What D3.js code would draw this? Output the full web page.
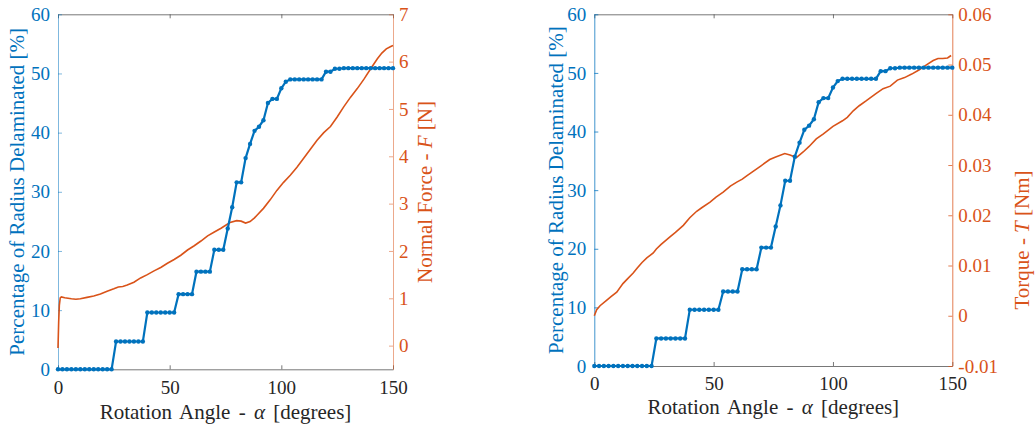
<!DOCTYPE html>
<html>
<head>
<meta charset="utf-8">
<script src="https://cdn.jsdelivr.net/npm/d3@7"></script>
<style>
  body { margin: 0; background: #fff; }
  text { font-family: "Liberation Serif", "Times New Roman", serif; }
</style>
</head>
<body>
<div id="chart"></div>
<script>
// ---------------- data ----------------
// delamination (same test in both panels), sampled every 2 degrees
const angles = [0,2,4,6,8,10,12,14,16,18,20,22,24,26,28,30,32,34,36,38,40,42,44,46,48,50,52,54,56,58,60,
                62,64,66,68,70,72,74,76,78,80,82,84,86,88,90,92,94,96,98,100,102,104,106,108,110,112,114,116,118,
                120,122,124,126,128,130,132,134,136,138,140,142,144,146,148,150];
const delaminated = [0,0,0,0,0,0,0,0,0,0,0,0,0,
                     4.7,4.7,4.7,4.7,4.7,4.7,4.7,
                     9.6,9.6,9.6,9.6,9.6,9.6,9.6,
                     12.7,12.7,12.7,12.7,
                     16.5,16.5,16.5,16.5,
                     20.2,20.2,20.2,
                     23.8,27.4,31.6,31.6,35.7,38.1,40.3,41.0,42.1,45.0,45.7,45.7,47.5,48.6,
                     49.0,49.0,49.0,49.0,49.0,49.0,49.0,49.0,
                     50.3,50.3,
                     50.8,50.8,50.9,50.9,50.9,50.9,50.9,50.9,50.9,50.9,50.9,50.9,50.9,50.9];

// normal force F [N] (left panel)
const forceAngle = [0,0.3,0.6,1,1.5,3,6,8,10,13,16,19,22,25,27,29,31,34,37,40,43,46,49,52,55,58,61,64,67,70,73,
                    77,80,82,84,86,88,89,92,95,98,101,104,107,110,113,116,119,122,125,128,131,134,137,140,143,145,147,149,150];
const forceValue = [-0.05,0.5,0.85,1.01,1.03,1.01,0.99,0.98,0.99,1.02,1.05,1.09,1.15,1.2,1.24,1.25,1.28,1.34,1.43,1.5,1.58,1.65,1.74,1.82,1.91,2.02,2.11,2.21,2.32,2.4,2.48,
                    2.6,2.64,2.63,2.59,2.62,2.7,2.75,2.9,3.08,3.28,3.45,3.6,3.77,3.96,4.15,4.34,4.5,4.63,4.83,5.05,5.25,5.43,5.63,5.85,6.06,6.18,6.27,6.32,6.34];

// torque T [Nm] (right panel)
const torqueAngle = [0,1,2.4,5,7,9.4,12,14,16.3,18,20,22,24.7,26,28,31.7,34,37.3,40,42.9,45,48.5,51,54,57,59.7,62,64,67,70,73.5,
                     76,79.8,82,84.7,87.5,90,93,96,100,104,106,108.5,111,114,118,121,124,127,130,133,136,139,142,144,146,148,149.5];
const torqueValue = [0,0.0012,0.002,0.003,0.0038,0.0047,0.0064,0.0074,0.0085,0.0095,0.0106,0.0115,0.0125,0.0133,0.0142,0.0157,0.0166,0.018,0.0195,0.0208,0.0215,0.0226,0.0236,0.0246,0.0258,0.0266,0.0272,0.0279,0.0289,0.0299,0.0311,
                     0.0316,0.0323,0.032,0.0315,0.0326,0.0337,0.0352,0.0362,0.0377,0.0388,0.0395,0.0408,0.0418,0.0428,0.0442,0.0452,0.0457,0.0469,0.0474,0.0481,0.0489,0.0499,0.0508,0.0512,0.0512,0.0513,0.0518];

// ticks
const xTicks = [0,50,100,150];
const pctTicks = [0,10,20,30,40,50,60];
const forceTicks = [0,1,2,3,4,5,6,7];
const torqueTicks = [-0.01,0,0.01,0.02,0.03,0.04,0.05,0.06];

// ---------------- setup ----------------
const blue = "#0072BD", orange = "#D95319", dark = "#262626";

let svg = d3.select("#chart")
            .append("svg")
            .attr("width", 1035)
            .attr("height", 427);

////////////////// panel function ////////////////////////////////////

function drawPanel(p) {
  let x = d3.scaleLinear().domain([0,150]).range([p.left, p.right]);
  let yL = d3.scaleLinear().domain([0,60]).range([p.bottom, p.top]);
  let yR = d3.scaleLinear().domain(p.rDomain).range([p.bottom, p.top]);

  //top + bottom axes (dark)
  let bottom = svg.append("g")
                  .attr("transform", `translate(0,${p.bottom})`)
                  .call(d3.axisBottom(x).tickValues(xTicks).tickSize(-4).tickSizeOuter(0).tickPadding(11));
  let top = svg.append("g")
               .attr("transform", `translate(0,${p.top})`)
               .call(d3.axisTop(x).tickValues(xTicks).tickSize(-4).tickSizeOuter(0).tickFormat(""));
  [bottom, top].forEach(function(g) {
    g.selectAll("path, line").attr("stroke", "#555").attr("stroke-width", 0.8);
    g.selectAll("text").attr("fill", dark).attr("font-size", 19)
     .attr("font-family", "Liberation Serif, serif");
  });

  //left axis (blue)
  let left = svg.append("g")
                .attr("transform", `translate(${p.left},0)`)
                .call(d3.axisLeft(yL).tickValues(pctTicks).tickSize(-4).tickSizeOuter(0).tickPadding(8));
  left.selectAll("path, line").attr("stroke", blue).attr("stroke-opacity", p.axisOpacity);
  left.selectAll("text").attr("fill", blue).attr("font-size", 19)
      .attr("font-family", "Liberation Serif, serif");

  //right axis (orange)
  let right = svg.append("g")
                 .attr("transform", `translate(${p.right},0)`)
                 .call(d3.axisRight(yR).tickValues(p.rTicks).tickSize(-4).tickSizeOuter(0)
                         .tickPadding(6).tickFormat(p.rFormat));
  right.selectAll("path, line").attr("stroke", orange).attr("stroke-opacity", p.axisOpacity);
  right.selectAll("text").attr("fill", orange).attr("font-size", 19)
       .attr("font-family", "Liberation Serif, serif");

  //orange curve
  let rLine = d3.line()
                .x(function(d, i) { return x(p.rAngle[i]); })
                .y(function(d) { return yR(d); });
  svg.append("path")
     .datum(p.rValue)
     .attr("d", rLine)
     .attr("fill", "none")
     .attr("stroke", orange)
     .attr("stroke-width", 1.6);

  //blue step curve with markers
  let bLine = d3.line()
                .x(function(d, i) { return x(angles[i]); })
                .y(function(d) { return yL(d); });
  svg.append("path")
     .datum(delaminated)
     .attr("d", bLine)
     .attr("fill", "none")
     .attr("stroke", blue)
     .attr("stroke-width", 2.2);
  svg.append("g")
     .selectAll("circle")
     .data(delaminated)
     .enter()
     .append("circle")
     .attr("cx", function(d, i) { return x(angles[i]); })
     .attr("cy", function(d) { return yL(d); })
     .attr("r", 2.2)
     .attr("fill", blue);

  //x label
  let xl = svg.append("text")
              .attr("x", (p.left + p.right) / 2)
              .attr("y", p.xLabelY)
              .attr("dy", "0.35em")
              .attr("text-anchor", "middle")
              .attr("font-size", 21)
              .attr("fill", dark)
              .attr("word-spacing", 3);
  xl.append("tspan").text("Rotation Angle - ");
  xl.append("tspan").attr("font-style", "italic").text("α");
  xl.append("tspan").text(" [degrees]");

  //left y label
  svg.append("text")
     .attr("transform", `translate(${p.left - p.yLabelOff},${(p.top + p.bottom) / 2}) rotate(-90)`)
     .attr("dy", "0.35em")
     .attr("text-anchor", "middle")
     .attr("font-size", 21)
     .attr("fill", blue)
     .text("Percentage of Radius Delaminated [%]");

  //right y label
  let rl = svg.append("text")
              .attr("transform", `translate(${p.rLabelX},${p.rLabelY}) rotate(-90)`)
              .attr("dy", "0.35em")
              .attr("text-anchor", "middle")
              .attr("font-size", 21)
              .attr("fill", orange);
  rl.append("tspan").text(p.rLabel[0]);
  rl.append("tspan").attr("font-style", "italic").text(p.rLabel[1]);
  rl.append("tspan").text(p.rLabel[2]);
}

////////////////// draw both panels ////////////////////////////////////

drawPanel({
  left: 58, right: 393, top: 14.3, bottom: 369.3,
  rDomain: [-0.5, 7], rTicks: forceTicks, rFormat: d3.format("d"),
  rAngle: forceAngle, rValue: forceValue,
  xLabelY: 411.7, yLabelOff: 41, rLabelX: 425, rLabelY: 192,
  rLabel: ["Normal Force - ", "F", " [N]"],
  axisOpacity: 0.5
});

drawPanel({
  left: 594.3, right: 952.3, top: 14.3, bottom: 366,
  rDomain: [-0.01, 0.06], rTicks: torqueTicks,
  rFormat: function(d) { return d === 0 ? "0" : d.toFixed(2); },
  rAngle: torqueAngle, rValue: torqueValue,
  xLabelY: 406.7, yLabelOff: 39, rLabelX: 1022, rLabelY: 240,
  rLabel: ["Torque - ", "T", " [Nm]"],
  axisOpacity: 0.75
});
</script>
</body>
</html>
